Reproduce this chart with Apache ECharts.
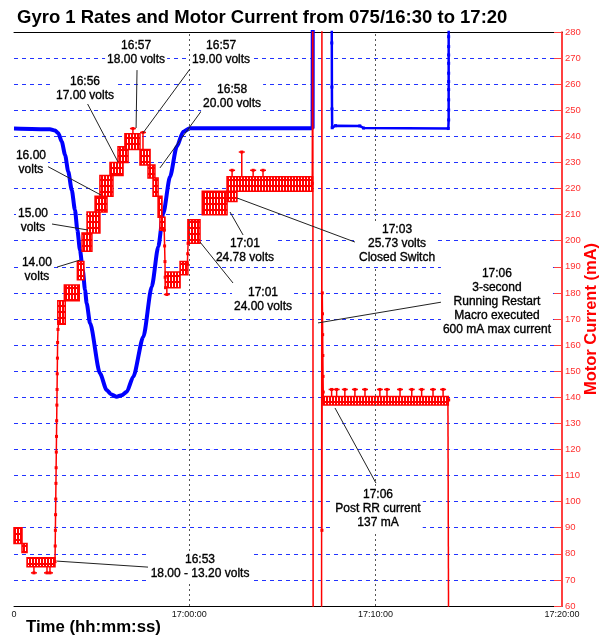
<!DOCTYPE html>
<html>
<head>
<meta charset="utf-8">
<script src="https://cdn.jsdelivr.net/npm/echarts@6/dist/echarts.min.js"></script>
<style>
  html, body { margin: 0; padding: 0; background: #fff; }
  #chart { width: 607px; height: 637px; }
</style>
</head>
<body>
<div id="chart"></div>
<script>
// x values are minutes after 16:50:00
const timeTicks = [0.6, 10, 20, 30];
const timeMarkers = [10, 20];

// gyro 1 rate (blue trace, no scale shown)
const gyroRate = [
  [0.60, 243.0], [2.53, 242.7], [2.80, 242.2], [2.98, 241.2], [3.16, 238.0], [3.34, 232.9],
  [3.51, 226.5], [3.70, 219.4], [3.87, 211.8], [4.00, 204.1], [4.14, 196.4], [4.29, 188.8],
  [4.41, 181.1], [4.50, 176.0], [4.68, 168.4], [5.21, 149.2], [5.57, 142.8], [5.80, 141.2],
  [6.11, 140.2], [6.38, 140.8], [6.65, 142.1], [7.00, 147.9], [7.54, 163.2], [7.99, 182.4],
  [8.34, 197.7], [8.61, 210.5], [8.97, 224.5], [9.33, 236.0], [9.68, 241.8], [10.04, 243.1],
  [16.62, 243.1], [16.63, 300]
];
const gyroRateRestart = [
  [17.64, 300], [17.65, 275.8], [17.655, 258.9], [17.66, 250.5], [17.67, 243.3], [17.85, 244.1],
  [19.15, 244.0], [19.35, 243.2], [23.90, 243.0], [23.92, 246.3], [23.92, 250.1], [23.92, 254.0],
  [23.92, 257.9], [23.92, 261.0], [23.92, 264.2], [23.92, 268.0], [23.92, 271.2], [23.92, 274.4],
  [23.92, 278.2], [23.93, 300]
];

// motor current (mA): dithering sections as [start, end, low, high]
const currentBands = [
  [0.60, 1.03, 84, 90], [1.03, 1.30, 80.5, 84], [1.30, 2.80, 75, 78.5],
  [2.95, 3.35, 168, 177], [3.30, 4.10, 177, 183], [4.00, 4.35, 185, 192], [4.25, 4.78, 196, 203],
  [4.52, 5.21, 203, 211], [4.95, 5.59, 211, 217], [5.21, 5.91, 217, 225], [5.75, 6.45, 225, 230],
  [6.18, 6.72, 230, 236], [6.55, 7.36, 235, 241], [7.36, 7.90, 229, 235], [7.79, 8.16, 224, 229],
  [8.06, 8.33, 217, 224], [8.33, 8.54, 209, 217], [8.43, 8.70, 204, 209], [8.72, 9.51, 182, 188],
  [9.51, 9.93, 187, 192], [9.93, 10.58, 199, 208], [10.70, 12.03, 210, 219], [12.03, 12.56, 215, 219],
  [12.03, 16.62, 219, 224.5], [17.18, 23.90, 137, 140.3]
];
// single samples sticking out of a band: [time, band edge, sample]
const currentSpikes = [
  [1.67, 75, 72.7], [2.37, 75, 72.7], [2.53, 75, 72.7],
  [6.98, 241, 243], [7.52, 235, 241.5], [8.80, 182, 179.4],
  [12.30, 224.5, 227], [12.82, 224.5, 234], [13.43, 224.5, 227], [13.96, 224.5, 227],
  [17.64, 140.3, 143], [17.91, 140.3, 143], [18.35, 140.3, 143], [18.89, 140.3, 143],
  [19.43, 140.3, 143], [20.23, 140.3, 143], [20.61, 140.3, 143], [21.31, 140.3, 143],
  [21.94, 140.3, 143], [22.47, 140.3, 143], [23.08, 140.3, 143], [23.62, 140.3, 143]
];
const currentJump = [
  [2.80, 77], [2.81, 83], [2.82, 89], [2.83, 95], [2.84, 101], [2.85, 107], [2.86, 113], [2.87, 119],
  [2.88, 125], [2.89, 131], [2.90, 137], [2.91, 143], [2.92, 149], [2.93, 155], [2.94, 161], [2.96, 166], [3.00, 169]
];
const currentDip = [[8.66, 204], [8.68, 198], [8.70, 192], [8.71, 186], [8.73, 182]];
const currentRise = [[9.90, 191], [9.92, 195], [9.94, 199]];
const currentRestart = [
  [16.60, 222], [16.63, 300], [16.65, 40], [17.10, 40], [17.12, 300], [17.12, 89], [17.14, 180],
  [17.15, 172], [17.16, 164], [17.17, 156], [17.18, 148], [17.19, 142], [17.20, 139]
];
const currentEnd = [[23.88, 139], [23.92, 139], [23.92, 40]];

// callouts: text, then [text t, text mA, line from t, mA, line to t, mA]
const noteTexts = [
  '16:57\n18.00 volts', '16:57\n19.00 volts', '16:56\n17.00 volts', '16:58\n20.00 volts',
  '16.00\nvolts', '15.00\nvolts', '14.00\nvolts', '17:01\n24.78 volts', '17:01\n24.00 volts',
  '17:03\n25.73 volts\nClosed Switch',
  '17:06\n3-second\nRunning Restart\nMacro executed\n600 mA max current',
  '17:06\nPost RR current\n137 mA', '16:53\n18.00 - 13.20 volts'
];
const noteAnchors = [
  [7.15, 272.0, 7.20, 265.4, 7.15, 243.2],
  [11.71, 272.0, 10.04, 265.8, 7.52, 241.3],
  [4.41, 258.2, 4.52, 252.8, 6.18, 230.2],
  [12.30, 255.1, 10.69, 250.1, 8.43, 227.9],
  [1.51, 229.8, 2.37, 228.6, 5.27, 217.5],
  [1.62, 207.6, 2.64, 206.4, 4.57, 204.1],
  [1.83, 188.8, 2.91, 189.9, 4.14, 192.6],
  [12.99, 196.1, 12.89, 202.2, 12.19, 211.0],
  [13.96, 177.3, 12.35, 183.8, 10.58, 199.5],
  [21.15, 198.7, 18.89, 199.5, 12.56, 216.4],
  [26.51, 176.5, 23.56, 176.5, 16.91, 168.5],
  [20.13, 97.2, 20.02, 107.1, 17.82, 135.9],
  [10.58, 74.9, 7.79, 74.9, 2.91, 77.2]
];

const FONT = '"Liberation Sans", Arial, sans-serif';
const RED = '#ff0000';
const BLUE = '#0000ff';

// ladder look of the dithering current trace
const ladder = (function () {
  let c = document.createElement('canvas');
  c.width = 3;
  c.height = 6;
  let g = c.getContext('2d');
  g.fillStyle = RED;
  g.fillRect(0, 0, 3, 6);
  g.fillStyle = '#ffffff';
  g.fillRect(1, 1, 1, 4);
  return c;
})();

function timeLabel(v) {
  if (v < 1) return '0';
  let m = Math.round(50 + v);
  let h = 16 + Math.floor(m / 60);
  m = m % 60;
  return h + ':' + (m < 10 ? '0' : '') + m + ':00';
}

function traceSeries(data) {
  return {
    type: 'line',
    data: data,
    symbol: 'rect',
    symbolSize: 3,
    lineStyle: { color: RED, width: 1.5 },
    itemStyle: { color: RED },
    z: 5,
    animation: false
  };
}

let chart = echarts.init(document.getElementById('chart'));
chart.setOption({
  backgroundColor: '#fff',
  animation: false,
  title: {
    text: 'Gyro 1 Rates and Motor Current from 075/16:30 to 17:20',
    left: 12,
    top: 3,
    textStyle: { fontSize: 18.5, fontWeight: 'bold', color: '#000', fontFamily: FONT }
  },
  grid: { left: 14, right: 45, top: 32, bottom: 31, outerBoundsMode: 'none' },
  xAxis: [{
    type: 'value',
    min: 0.6,
    max: 30,
    position: 'bottom',
    axisLine: { lineStyle: { color: '#000', width: 1 } },
    axisTick: { show: false },
    splitLine: { show: false },
    axisLabel: {
      customValues: timeTicks,
      formatter: timeLabel,
      fontSize: 9,
      color: '#111',
      margin: 4,
      fontFamily: FONT
    }
  }, {
    type: 'value',
    min: 0.6,
    max: 30,
    position: 'top',
    axisLine: { lineStyle: { color: '#000', width: 1 } },
    axisTick: { show: false },
    axisLabel: { show: false },
    splitLine: { show: false }
  }],
  yAxis: [{
    type: 'value',
    position: 'right',
    min: 60,
    max: 280,
    interval: 10,
    name: 'Motor Current (mA)',
    nameLocation: 'middle',
    nameRotate: 90,
    nameGap: 21,
    nameMoveOverlap: false,
    nameTextStyle: { color: RED, fontSize: 16.5, fontWeight: 'bold', fontFamily: FONT },
    axisLine: { show: true, lineStyle: { color: RED, width: 1.5 } },
    axisTick: { show: true, inside: true, length: 8, lineStyle: { color: '#ff4040' } },
    axisLabel: { color: '#ff3030', fontSize: 9.5, margin: 3, fontFamily: FONT },
    splitLine: {
      show: true,
      showMinLine: false,
      showMaxLine: false,
      lineStyle: { color: '#2233ff', type: [4, 4], width: 1 }
    }
  }, {
    type: 'value',
    min: 60,
    max: 280,
    show: false
  }],
  graphic: [{
    type: 'text',
    left: 26,
    top: 619,
    style: { text: 'Time (hh:mm:ss)', font: 'bold 16.8px ' + FONT, fill: '#000' }
  }],
  series: [
    {
      type: 'line',
      yAxisIndex: 1,
      data: gyroRate,
      showSymbol: false,
      smooth: 0.25,
      smoothMonotone: 'x',
      lineStyle: { color: BLUE, width: 4 },
      z: 3,
      markLine: {
        silent: true,
        symbol: 'none',
        label: { show: false },
        lineStyle: { color: '#555', type: [2, 3], width: 1 },
        data: timeMarkers.map(function (t) { return { xAxis: t }; })
      }
    },
    {
      type: 'line',
      yAxisIndex: 1,
      data: gyroRateRestart,
      symbol: 'rect',
      symbolSize: 3,
      lineStyle: { color: BLUE, width: 2.5 },
      itemStyle: { color: BLUE },
      z: 3
    },
    {
      type: 'custom',
      data: currentBands,
      encode: { x: [0, 1], y: [2, 3] },
      z: 4,
      renderItem: function (params, api) {
        let a = api.coord([api.value(0), api.value(3)]);
        let b = api.coord([api.value(1), api.value(2)]);
        return {
          type: 'rect',
          shape: { x: a[0], y: a[1], width: b[0] - a[0], height: b[1] - a[1] },
          style: { fill: { image: ladder, repeat: 'repeat' }, stroke: RED, lineWidth: 1.5 }
        };
      }
    },
    {
      type: 'custom',
      data: currentSpikes,
      encode: { x: 0, y: [1, 2] },
      z: 4,
      renderItem: function (params, api) {
        let a = api.coord([api.value(0), api.value(1)]);
        let b = api.coord([api.value(0), api.value(2)]);
        return {
          type: 'group',
          children: [
            { type: 'line', shape: { x1: a[0], y1: a[1], x2: b[0], y2: b[1] }, style: { stroke: RED, lineWidth: 1.5 } },
            { type: 'line', shape: { x1: b[0] - 3, y1: b[1], x2: b[0] + 3, y2: b[1] }, style: { stroke: RED, lineWidth: 1.5 } },
            { type: 'rect', shape: { x: b[0] - 1.5, y: b[1] - 1.5, width: 3, height: 3 }, style: { fill: RED } }
          ]
        };
      }
    },
    traceSeries(currentJump),
    traceSeries(currentDip),
    traceSeries(currentRise),
    traceSeries(currentRestart),
    traceSeries(currentEnd),
    {
      type: 'custom',
      data: noteAnchors,
      encode: { x: [0, 2, 4], y: [1, 3, 5] },
      z: 10,
      clip: false,
      renderItem: function (params, api) {
        let t = api.coord([api.value(0), api.value(1)]);
        let p = api.coord([api.value(2), api.value(3)]);
        let q = api.coord([api.value(4), api.value(5)]);
        return {
          type: 'group',
          children: [
            { type: 'line', shape: { x1: p[0], y1: p[1], x2: q[0], y2: q[1] }, style: { stroke: '#222', lineWidth: 1 } },
            {
              type: 'text',
              x: t[0],
              y: t[1],
              style: {
                text: noteTexts[params.dataIndex],
                fill: '#000',
                stroke: '#000',
                lineWidth: 0.35,
                font: '12px ' + FONT,
                align: 'center',
                verticalAlign: 'middle',
                lineHeight: 14,
                backgroundColor: '#fff',
                padding: [1, 2]
              }
            }
          ]
        };
      }
    }
  ]
});
</script>
</body>
</html>
